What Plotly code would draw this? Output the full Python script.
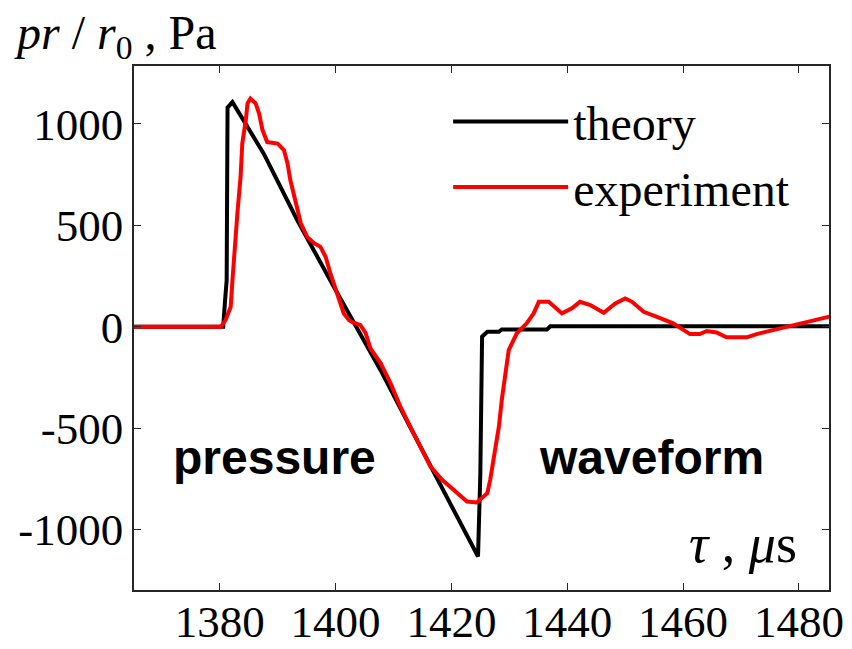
import plotly.graph_objects as go

# Theory waveform (time in microseconds, pressure*r/r0 in Pa)
theory_t = [1365.0, 1380.6, 1380.9, 1381.2, 1381.35, 1382.2, 1387.6, 1393.4,
            1399.7, 1402.0, 1407.8, 1412.9, 1418.1, 1422.1, 1424.6,
            1425.0, 1425.3, 1426.2, 1428.2, 1428.7, 1436.5, 1437.1, 1486.0]
theory_v = [0, 0, 120, 230, 1080, 1107, 853, 525,
            197, 82, -215, -495, -780, -1000, -1132,
            -722, -49, -25, -25, -13, -13, 3, 3]

# Measured waveform
exp_t = [1365.0, 1380.2, 1381.0, 1381.9, 1382.2, 1382.5, 1383.05, 1383.6,
         1383.9, 1384.5, 1384.8, 1385.3, 1386.2, 1386.8, 1387.4, 1388.2,
         1390.0, 1391.1, 1391.7, 1392.2, 1393.1, 1394.0, 1395.1, 1396.3,
         1397.4, 1398.3, 1399.1, 1400.3, 1401.4, 1402.3, 1402.9, 1404.3,
         1405.2, 1406.0, 1407.8, 1409.5, 1411.2, 1412.9, 1414.7, 1416.4,
         1418.4, 1420.4, 1422.7, 1424.4, 1426.2, 1426.7, 1427.6, 1428.2,
         1428.7, 1429.3, 1429.9, 1431.3, 1433.0, 1434.2, 1435.1, 1436.8,
         1439.1, 1440.8, 1442.2, 1444.0, 1446.3, 1448.3, 1450.0, 1451.2,
         1453.2, 1455.5, 1458.3, 1461.2, 1462.9, 1464.1, 1465.8, 1467.5,
         1471.0, 1472.7, 1475.6, 1478.5, 1481.3, 1483.6, 1486.0]
exp_v = [0, 0, 33, 99, 230, 363, 559, 738,
         904, 1017, 1101, 1124, 1101, 1051, 968, 910,
         903, 870, 806, 722, 609, 510, 443, 412,
         394, 344, 264, 166, 67, 33, 23, 8,
         -31, -105, -180, -279, -394, -492, -591, -689,
         -754, -804, -861, -866, -820, -754, -607, -492,
         -361, -229, -115, -32, 17, 66, 123, 123,
         66, 91, 123, 107, 69, 115, 140, 123,
         74, 49, 17, -36, -36, -21, -28, -52,
         -52, -36, -16, 0, 20, 36, 55]

x_ticks = [1380, 1400, 1420, 1440, 1460, 1480]
y_ticks = [-1000, -500, 0, 500, 1000]
y_tick_text = ["-1000", "-500", "0", "500", "1000"]

serif = "Liberation Serif, Times New Roman, serif"
sans = "Liberation Sans, Arial, sans-serif"

fig = go.Figure()
fig.add_trace(go.Scatter(x=theory_t, y=theory_v, mode="lines", name="theory",
                         line=dict(color="#000000", width=4)))
fig.add_trace(go.Scatter(x=exp_t, y=exp_v, mode="lines", name="experiment",
                         line=dict(color="#ff0000", width=4)))

axis_common = dict(showgrid=False, zeroline=False, showline=True, mirror="ticks",
                   linecolor="#262626", linewidth=1.5, ticks="inside", ticklen=7,
                   tickwidth=1.2, tickcolor="#262626", automargin=False,
                   tickfont=dict(family=serif, size=45, color="#000000"))

fig.update_xaxes(range=[1365.2, 1485.2], tickvals=x_ticks,
                 ticklabelstandoff=-9, **axis_common)
fig.update_yaxes(range=[-1297, 1285], tickvals=y_ticks, ticktext=y_tick_text,
                 **axis_common)

fig.add_annotation(x=0, y=1, xref="paper", yref="paper", xanchor="left",
                   yanchor="bottom", xshift=-122, yshift=-2, showarrow=False,
                   text="<i>pr</i> / <i>r</i><sub>0</sub> , Pa",
                   font=dict(family=serif, size=48, color="#000000"))
fig.add_annotation(x=1, y=0, xref="paper", yref="paper", xanchor="right",
                   yanchor="bottom", xshift=-30, yshift=14, showarrow=False,
                   text="<i>τ</i> , <i>μ</i>s",
                   font=dict(family=serif, size=54, color="#000000"))
fig.add_annotation(x=1389.4, y=-646, showarrow=False, text="<b>pressure</b>",
                   font=dict(family=sans, size=48, color="#000000"))
fig.add_annotation(x=1454.5, y=-646, showarrow=False, text="<b>waveform</b>",
                   font=dict(family=sans, size=48, color="#000000"))

fig.update_layout(
    width=852, height=649,
    margin=dict(l=134, r=23, t=66, b=59),
    paper_bgcolor="#ffffff", plot_bgcolor="#ffffff",
    showlegend=True,
    legend=dict(x=0.452, y=0.966, xanchor="left", yanchor="top",
                bgcolor="rgba(0,0,0,0)", itemwidth=115,
                font=dict(family=serif, size=48, color="#000000"),
                tracegroupgap=0),
)

fig.write_html("out.html")
